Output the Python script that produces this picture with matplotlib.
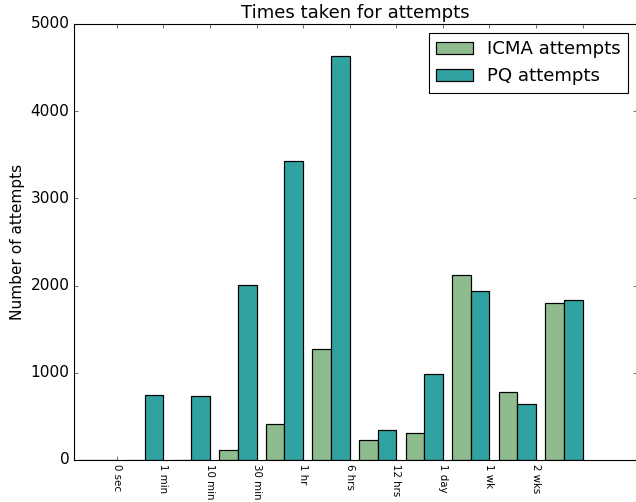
import matplotlib
matplotlib.use("Agg")
import matplotlib.pyplot as plt
import numpy as np

plt.style.use('classic')

## Bar heights, one entry per time bucket
time_labels = ['0 sec', '1 min', '10 min', '30 min', '1 hr', '6 hrs',
               '12 hrs', '1 day', '1 wk', '2 wks', '']
icma_attempts = [0, 0, 5, 110, 410, 1270, 225, 305, 2125, 780, 1805]
pq_attempts = [0, 745, 730, 2010, 3425, 4635, 340, 985, 1935, 640, 1835]

ind = np.arange(len(icma_attempts))
width = 0.4

fig = plt.figure(figsize=(636 / 80, 502 / 80), dpi=80)
fig.patch.set_facecolor('white')
ax = fig.add_axes([74 / 636, 42 / 502, 563 / 636, 436 / 502])

ax.bar(ind, icma_attempts, width, align='edge', color='#8fbc8f',
       edgecolor='black', linewidth=1.1, label='ICMA attempts')
ax.bar(ind + width, pq_attempts, width, align='edge', color='#31a2a2',
       edgecolor='black', linewidth=1.1, label='PQ attempts')

ax.set_xlim(-0.12, 11.97)
ax.set_ylim(0, 5000)
ax.set_yticks(np.arange(0, 5001, 1000))
ax.tick_params(axis='y', labelsize=13.8)
ax.set_xticks(ind + 2 * width)
ax.set_xticklabels(time_labels, rotation=-90, fontsize=9.2)

ax.set_title('Times taken for attempts', fontsize=16.3)
ax.set_ylabel('Number of attempts', fontsize=13.8)
ax.legend(loc='upper right', fontsize=16.3)

fig.savefig('out.png', dpi=80, facecolor='white')
